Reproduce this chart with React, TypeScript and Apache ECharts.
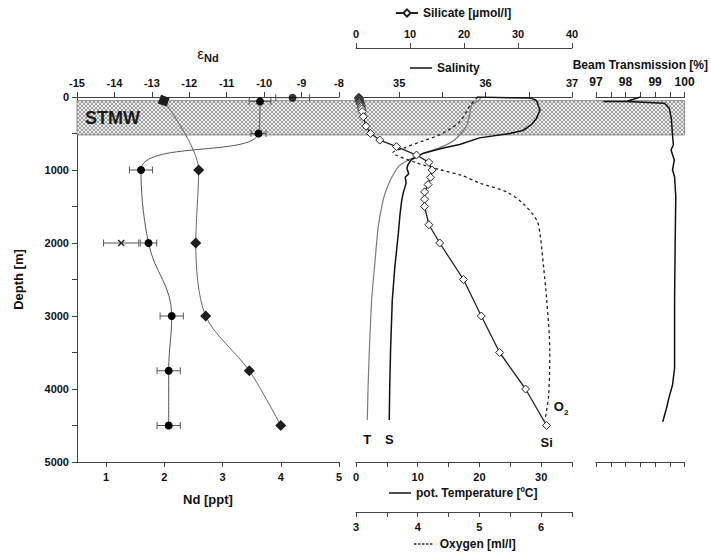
import React, { useEffect, useRef } from "react";
import * as echarts from "echarts";

const FONT = '"Liberation Sans", Arial, Helvetica, sans-serif';

// ---- Nd isotopes and concentrations ----
// εNd with 2σ errors (filled circles, connected)
const epsDepth = [60, 500, 1000, 2000, 3000, 3750, 4500];
const epsVal = [-10.11, -10.15, -13.29, -13.09, -12.47, -12.55, -12.55];
const epsErr = [0.29, 0.2, 0.31, 0.22, 0.31, 0.31, 0.31];
// surface εNd sample
const surfDepth = [10];
const surfVal = [-9.24];
const surfErr = [0.45];
// earlier εNd determination at 2000 m (cross)
const prevDepth = [2000];
const prevVal = [-13.82];
const prevErr = [0.47];
// Nd concentration [ppt] (filled diamonds)
const ndDepth = [50, 1000, 2000, 3000, 3750, 4500];
const ndVal = [1.99, 2.59, 2.54, 2.71, 3.46, 4.0];

// ---- hydrography ----
const siDepth = [2, 8, 14, 20, 27, 34, 42, 50, 58, 66, 75, 85, 95, 105, 120, 140, 165, 200, 270, 400, 500, 590, 680, 795, 895, 1000, 1100, 1200, 1300, 1400, 1500, 1750, 2000, 2500, 3000, 3500, 4000, 4500];
const siVal = [0.5, 0.55, 0.5, 0.6, 0.55, 0.6, 0.65, 0.6, 0.7, 0.7, 0.75, 0.8, 0.85, 0.9, 0.95, 1.0, 1.05, 1.15, 1.35, 1.85, 2.7, 4.4, 7.5, 11.2, 13.5, 14.1, 13.8, 13.35, 12.7, 12.7, 12.7, 13.5, 15.5, 19.9, 23.2, 26.6, 31.4, 35.3];

const salDepth = [0, 15, 40, 80, 120, 180, 290, 380, 460, 500, 560, 650, 700, 770, 860, 930, 980, 1050, 1100, 1180, 1300, 1410, 1600, 1870, 2320, 2780, 3470, 4000, 4425];
const salVal = [35.9, 36.52, 36.58, 36.6, 36.61, 36.63, 36.59, 36.53, 36.43, 36.28, 35.93, 35.7, 35.51, 35.28, 35.14, 35.1, 35.09, 35.11, 35.07, 35.08, 35.05, 35.03, 35.01, 34.99, 34.95, 34.92, 34.9, 34.89, 34.885];

const tempDepth = [5, 40, 110, 250, 320, 400, 500, 600, 680, 770, 850, 950, 1100, 1250, 1410, 1780, 2230, 2780, 3470, 4000, 4425];
const tempVal = [20.2, 20.0, 18.75, 18.4, 18.2, 17.9, 17.0, 15.8, 14.0, 11.0, 8.8, 6.9, 5.8, 5.0, 4.4, 3.6, 3.1, 2.54, 2.16, 1.95, 1.83];

const oxyDepth = [0, 40, 100, 200, 340, 440, 520, 600, 700, 760, 900, 1000, 1070, 1180, 1300, 1460, 1690, 1870, 2330, 2780, 3470, 4100, 4430];
const oxyVal = [4.97, 4.93, 4.86, 4.79, 4.68, 4.52, 4.35, 4.09, 3.77, 3.6, 3.98, 4.38, 4.7, 5.01, 5.44, 5.71, 5.93, 5.98, 6.04, 6.09, 6.14, 6.12, 6.06];

const beamDepth = [0, 58, 62, 60, 86, 155, 292, 520, 658, 726, 863, 1000, 1092, 1366, 2000, 2781, 3716, 3945, 4105, 4288, 4448];
const beamVal = [98.5, 98.05, 97.25, 98.05, 99.32, 99.48, 99.55, 99.59, 99.62, 99.54, 99.65, 99.59, 99.66, 99.7, 99.68, 99.66, 99.66, 99.59, 99.48, 99.37, 99.26];

// Subtropical Mode Water depth range
const stmwRange = [50, 520];

// axis ticks / labels
const ndTicks = [1, 2, 3, 4, 5];
const salLabels = [35, 36, 37];
const salTicks = [35, 35.5, 36, 36.5, 37];
const tempLabels = [0, 10, 20, 30];
const oxyLabels = [3, 4, 5, 6];
const beamLabels = [97, 98, 99, 100];

const pairs = (xs: number[], ys: number[]) => xs.map((x, i) => [x, ys[i]]);

function withEndLabel(data: any[], label: any) {
  const d = data.slice();
  d[d.length - 1] = { value: d[d.length - 1], label: { show: true, ...label } };
  return d;
}

const lineCol = "#444";
const baseLabel = { color: "#111", fontSize: 11, fontWeight: "bold", fontFamily: FONT };
const nameStyle = { color: "#111", fontSize: 13, fontWeight: "bold", fontFamily: FONT };
const axLine = { show: true, onZero: false, lineStyle: { color: lineCol, width: 1 } };
const tick = { show: true, length: 5, lineStyle: { color: lineCol, width: 1 } };
const endText = { fontSize: 13, fontWeight: "bold", fontFamily: FONT, color: "#111" };

const dashIcon = "path://M0,0h3v2h-3zM5,0h3v2h-3zM10,0h3v2h-3zM15,0h3v2h-3zM20,0h3v2h-3z";

export default function App() {
  const ref = useRef<HTMLDivElement>(null);

  useEffect(() => {
    if (!ref.current) return;
    const chart = echarts.init(ref.current, null, { renderer: "svg", width: 711, height: 555 });

    const errData = [
      ...epsVal.map((v, i) => [v - epsErr[i], v + epsErr[i], epsDepth[i], 0]),
      ...surfVal.map((v, i) => [v - surfErr[i], v + surfErr[i], surfDepth[i], 0]),
      ...prevVal.map((v, i) => [v - prevErr[i], v + prevErr[i], prevDepth[i], 1]),
    ];

    const ndData: any[] = pairs(ndVal, ndDepth);
    ndData[0] = { value: ndData[0], symbolSize: 13, symbolRotate: 25 };

    const legendText = { color: "#111", fontSize: 12, fontWeight: "bold", fontFamily: FONT };
    const legendBase = { padding: 0, selectedMode: false, textStyle: legendText };
    const lineIcon = { icon: "rect", itemWidth: 22, itemHeight: 1.6, itemStyle: { color: "#222", borderWidth: 0 } };

    const option: any = {
      animation: false,
      backgroundColor: "#fff",
      textStyle: { fontFamily: FONT },
      grid: [
        { left: 77, top: 97, width: 262, height: 365 },
        { left: 356, top: 97, width: 216, height: 365 },
        { left: 596, top: 97, width: 92, height: 365 },
      ],
      legend: [
        { ...legendBase, data: ["Silicate [µmol/l]"], left: 395, top: 7, itemWidth: 22, itemHeight: 9 },
        { ...legendBase, ...lineIcon, data: ["Salinity"], left: 410, top: 62 },
        { ...legendBase, ...lineIcon, data: ["pot. Temperature [ºC]"], left: 389, top: 487 },
        {
          ...legendBase, data: ["Oxygen [ml/l]"], left: 414, top: 538, itemWidth: 23, itemHeight: 1.6,
          icon: dashIcon, itemStyle: { color: "#222", borderWidth: 0 },
        },
      ],
      xAxis: [
        {
          gridIndex: 0, type: "value", position: "bottom", min: 0.5, max: 5,
          axisLine: axLine, axisTick: { ...tick, customValues: ndTicks },
          axisLabel: { ...baseLabel, margin: 9, customValues: ndTicks }, splitLine: { show: false },
          name: "Nd [ppt]", nameLocation: "middle", nameGap: 31, nameTextStyle: nameStyle,
        },
        {
          gridIndex: 0, type: "value", position: "top", min: -15, max: -8, interval: 1,
          axisLine: axLine, axisTick: tick, axisLabel: { ...baseLabel, margin: 9 }, splitLine: { show: false },
          name: "{a|ε}{b|Nd}", nameLocation: "middle", nameGap: 34,
          nameTextStyle: {
            rich: {
              a: { fontSize: 15, lineHeight: 15, verticalAlign: "top", color: "#111", fontFamily: FONT },
              b: { fontSize: 11, lineHeight: 17, verticalAlign: "bottom", fontWeight: "bold", color: "#111", fontFamily: FONT },
            },
          },
        },
        {
          gridIndex: 1, type: "value", position: "top", min: 34.5, max: 37,
          axisLine: axLine, axisTick: { ...tick, customValues: salTicks },
          axisLabel: { ...baseLabel, margin: 9, customValues: salLabels }, splitLine: { show: false },
        },
        {
          gridIndex: 1, type: "value", position: "top", offset: 49, min: 0, max: 40, interval: 10,
          axisLine: axLine, axisTick: tick, axisLabel: { ...baseLabel, margin: 9 }, splitLine: { show: false },
        },
        {
          gridIndex: 1, type: "value", position: "bottom", min: 0, max: 35, interval: 5,
          axisLine: axLine, axisTick: tick,
          axisLabel: { ...baseLabel, margin: 9, customValues: tempLabels }, splitLine: { show: false },
        },
        {
          gridIndex: 1, type: "value", position: "bottom", offset: 50, min: 3, max: 6.5, interval: 0.5,
          axisLine: axLine, axisTick: tick,
          axisLabel: { ...baseLabel, margin: 9, customValues: oxyLabels }, splitLine: { show: false },
        },
        {
          gridIndex: 2, type: "value", position: "top", min: 97, max: 100, interval: 0.5,
          axisLine: axLine, axisTick: tick,
          axisLabel: { ...baseLabel, fontSize: 12, margin: 9, customValues: beamLabels }, splitLine: { show: false },
          name: "Beam Transmission [%]", nameLocation: "middle", nameGap: 22,
          nameTextStyle: { ...nameStyle, fontSize: 12 },
        },
        {
          gridIndex: 2, type: "value", position: "bottom", min: 97, max: 100, interval: 0.5,
          axisLine: axLine, axisTick: tick, axisLabel: { show: false }, splitLine: { show: false },
        },
      ],
      yAxis: [
        {
          gridIndex: 0, type: "value", inverse: true, min: 0, max: 5000, interval: 1000,
          axisLine: axLine, axisTick: tick,
          minorTick: { show: true, splitNumber: 2, length: 5, lineStyle: { color: lineCol } },
          axisLabel: { ...baseLabel, margin: 8, formatter: (v: number) => String(v) },
          splitLine: { show: false }, minorSplitLine: { show: false },
          name: "Depth [m]", nameLocation: "middle", nameGap: 52, nameRotate: 90, nameTextStyle: nameStyle,
        },
        { gridIndex: 1, type: "value", inverse: true, min: 0, max: 5000, show: false },
        { gridIndex: 2, type: "value", inverse: true, min: 0, max: 5000, show: false },
      ],
      series: [
        {
          name: "errors", type: "custom", xAxisIndex: 1, yAxisIndex: 0, z: 3,
          encode: { x: [0, 1], y: 2 },
          data: errData,
          renderItem: (params: any, api: any) => {
            const d = api.value(2);
            const a = api.coord([api.value(0), d]);
            const b = api.coord([api.value(1), d]);
            const st = { stroke: "#555", lineWidth: 1, fill: null };
            const cap = 3.5;
            const children: any[] = [
              { type: "line", shape: { x1: a[0], y1: a[1], x2: b[0], y2: b[1] }, style: st },
              { type: "line", shape: { x1: a[0], y1: a[1] - cap, x2: a[0], y2: a[1] + cap }, style: st },
              { type: "line", shape: { x1: b[0], y1: b[1] - cap, x2: b[0], y2: b[1] + cap }, style: st },
            ];
            if (api.value(3) === 1) {
              const c = api.coord([(api.value(0) + api.value(1)) / 2, d]);
              const r = 3;
              const xs = { stroke: "#222", lineWidth: 1.4 };
              children.push(
                { type: "line", shape: { x1: c[0] - r, y1: c[1] - r, x2: c[0] + r, y2: c[1] + r }, style: xs },
                { type: "line", shape: { x1: c[0] - r, y1: c[1] + r, x2: c[0] + r, y2: c[1] - r }, style: xs }
              );
            }
            return { type: "group", children };
          },
        },
        {
          name: "Nd", type: "line", xAxisIndex: 0, yAxisIndex: 0, z: 4,
          data: ndData, smooth: 0.3, symbol: "diamond", symbolSize: 11,
          itemStyle: { color: "#1e1e1e" }, lineStyle: { color: "#666", width: 1 },
        },
        {
          name: "εNd", type: "line", xAxisIndex: 1, yAxisIndex: 0, z: 4,
          data: pairs(epsVal, epsDepth), smooth: 0.42, symbol: "circle", symbolSize: 8,
          itemStyle: { color: "#000" }, lineStyle: { color: "#555", width: 1 },
        },
        {
          name: "εNd surface", type: "scatter", xAxisIndex: 1, yAxisIndex: 0, z: 4,
          data: pairs(surfVal, surfDepth), symbol: "circle", symbolSize: 8,
          itemStyle: { color: "#000" },
        },
        {
          name: "Salinity", type: "line", xAxisIndex: 2, yAxisIndex: 1, z: 4,
          data: pairs(salVal, salDepth),
          symbol: "none", lineStyle: { color: "#111", width: 1.5 }, itemStyle: { color: "#111" },
          endLabel: { show: true, formatter: "S", align: "center", verticalAlign: "middle", distance: 0, offset: [0, 19], ...endText },
        },
        {
          name: "pot. Temperature [ºC]", type: "line", xAxisIndex: 4, yAxisIndex: 1, z: 3,
          data: pairs(tempVal, tempDepth),
          symbol: "none", smooth: 0.2,
          lineStyle: { color: "#7a7a7a", width: 1.2 }, itemStyle: { color: "#333" },
          endLabel: { show: true, formatter: "T", align: "center", verticalAlign: "middle", distance: 0, offset: [0, 19], ...endText },
        },
        {
          name: "Oxygen [ml/l]", type: "line", xAxisIndex: 5, yAxisIndex: 1, z: 3,
          data: pairs(oxyVal, oxyDepth),
          symbol: "none", smooth: 0.3,
          lineStyle: { color: "#222", width: 1.3, type: [3, 3] }, itemStyle: { color: "#222" },
          endLabel: {
            show: true, formatter: "{o|O}{s|2}", align: "left", verticalAlign: "middle", distance: 9, offset: [0, -12],
            rich: {
              o: { ...endText, lineHeight: 13, verticalAlign: "top" },
              s: { ...endText, fontSize: 8, lineHeight: 16, verticalAlign: "bottom" },
            },
          },
        },
        {
          name: "Silicate [µmol/l]", type: "line", xAxisIndex: 3, yAxisIndex: 1, z: 5,
          data: withEndLabel(pairs(siVal, siDepth), { position: "bottom", distance: 6, formatter: "Si", ...endText }),
          symbol: "diamond", symbolSize: 8, showAllSymbol: true,
          itemStyle: { color: "#fff", borderColor: "#222", borderWidth: 1 },
          lineStyle: { color: "#222", width: 1.3 },
        },
        {
          name: "Beam", type: "line", xAxisIndex: 6, yAxisIndex: 2, z: 4,
          data: pairs(beamVal, beamDepth), symbol: "none",
          lineStyle: { color: "#111", width: 1.5 },
        },
      ],
    };

    chart.setOption(option);

    // hatched STMW band across all panels
    const tile = document.createElement("canvas");
    tile.width = 4;
    tile.height = 4;
    const ctx = tile.getContext("2d");
    if (ctx) {
      ctx.fillStyle = "#ececec";
      ctx.fillRect(0, 0, 4, 4);
      ctx.fillStyle = "#a0a0a0";
      for (let i = 0; i < 4; i++) {
        ctx.fillRect(i, i, 1, 1);
        ctx.fillRect(3 - i, i, 1, 1);
      }
    }
    const yTop = chart.convertToPixel({ yAxisIndex: 0 } as any, stmwRange[0]) as number;
    const yBot = chart.convertToPixel({ yAxisIndex: 0 } as any, stmwRange[1]) as number;
    const xL = chart.convertToPixel({ xAxisIndex: 0 } as any, 0.5) as number;
    const xR = chart.convertToPixel({ xAxisIndex: 6 } as any, 100) as number;
    chart.setOption({
      graphic: [
        {
          type: "rect", z: 1, silent: true,
          shape: { x: xL, y: yTop, width: xR - xL, height: yBot - yTop },
          style: { fill: { image: tile, repeat: "repeat" } as any, stroke: "#777", lineWidth: 0.8 },
        },
        {
          type: "text", z: 1, silent: true, x: xL + 8, y: (yTop + yBot) / 2,
          style: { text: "STMW", fontSize: 18, fontWeight: "bold", fontFamily: FONT, fill: "#1a1a1a", verticalAlign: "middle" },
        },
      ],
    });

    return () => chart.dispose();
  }, []);

  return (
    <div
      ref={ref}
      style={{ position: "fixed", left: 0, top: 0, width: 711, height: 555, background: "#fff" }}
    />
  );
}
